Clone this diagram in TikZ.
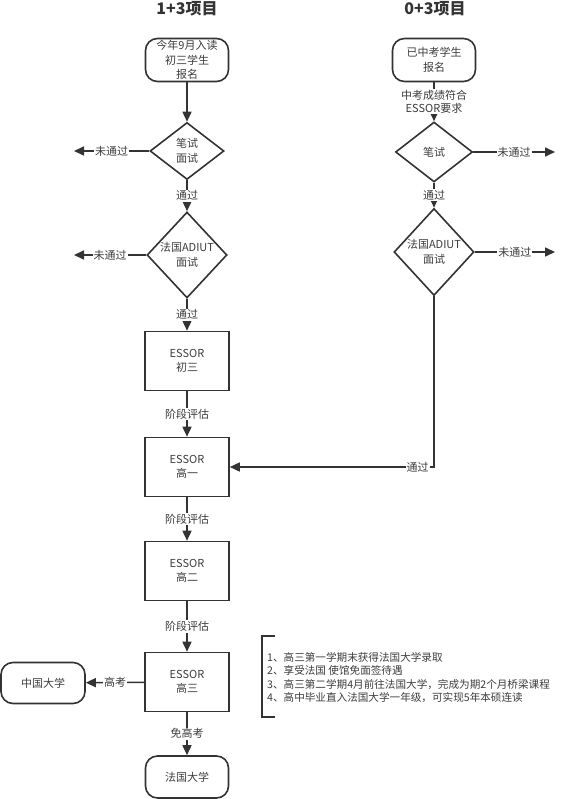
\documentclass[tikz,border=0pt]{standalone}
\usepackage{fontspec}
\setmainfont{Noto Sans CJK SC}
\usetikzlibrary{shapes.geometric,arrows.meta}
\definecolor{ln}{HTML}{333333}
\definecolor{tx}{HTML}{3C3C3C}
\begin{document}
\begin{tikzpicture}[x=1pt,y=-1pt,
  every node/.style={text=tx, font=\fontsize{11}{14.5}\selectfont, align=center},
  term/.style={draw=ln, line width=1.6pt, rounded corners=12pt, minimum width=83pt, minimum height=43pt, inner sep=0pt},
  dia/.style={draw=ln, line width=1.6pt, diamond, inner sep=0pt},
  box/.style={draw=ln, line width=1.6pt, rectangle, minimum width=84pt, minimum height=59pt, inner sep=0pt},
  conn/.style={draw=ln, line width=1.6pt, -{Triangle[length=10pt,width=9pt]}},
  lab/.style={fill=white, inner sep=1pt, font=\fontsize{11}{13}\selectfont},
  ttl/.style={font=\fontsize{16}{18}\selectfont\bfseries, text=ln}
]
\useasboundingbox (0,0) rectangle (560,799);

\node[ttl] (t1) at (187,9) {1+3项目};
\node[ttl] (t2) at (435,9) {0+3项目};

% left column
\node[term] (s1) at (187,60) {今年9月入读\\初三学生\\报名};
\node[dia, minimum width=74pt, minimum height=57pt, label={center:{笔试\\面试}}] (d1) at (187,151) {};
\node[dia, minimum width=80pt, minimum height=86pt, label={center:{法国ADIUT\\面试}}] (d2) at (187,255) {};
\node[box] (b1) at (187,361) {ESSOR\\初三};
\node[box] (b2) at (187,467) {ESSOR\\高一};
\node[box] (b3) at (187,571) {ESSOR\\高二};
\node[box] (b4) at (187,682) {ESSOR\\高三};
\node[term, minimum height=42pt] (fr) at (187,777) {法国大学};
\node[term, minimum width=84pt, minimum height=41pt] (cn) at (43,683) {中国大学};

\coordinate (l1) at (74,151);
\coordinate (l2) at (74,255);

% right column
\node[term] (s2) at (434,60) {已中考学生\\报名};
\node[dia, minimum width=77pt, minimum height=60pt, label={center:{笔试}}] (d3) at (434,152) {};
\node[dia, minimum width=80pt, minimum height=87pt, label={center:{法国ADIUT\\面试}}] (d4) at (434,252) {};

\coordinate (r1) at (555,152);
\coordinate (r2) at (555,252);

% connectors left
\draw[conn] (s1) -- (d1);
\draw[conn] (d1) -- node[lab]{通过} (d2);
\draw[conn] (d2) -- node[lab]{通过} (b1);
\draw[conn] (b1) -- node[lab]{阶段评估} (b2);
\draw[conn] (b2) -- node[lab]{阶段评估} (b3);
\draw[conn] (b3) -- node[lab]{阶段评估} (b4);
\draw[conn] (b4) -- node[lab]{免高考} (fr);
\draw[conn] (b4) -- node[lab]{高考} (cn);
\draw[conn] (d1) -- node[lab]{未通过} (l1);
\draw[conn] (d2) -- node[lab]{未通过} (l2);

% connectors right
\draw[conn] (s2) -- node[lab]{中考成绩符合\\ESSOR要求} (d3);
\draw[conn] (d3) -- node[lab]{通过} (d4);
\draw[conn] (d3) -- node[lab]{未通过} (r1);
\draw[conn] (d4) -- node[lab]{未通过} (r2);
\draw[conn] (d4.south) |- node[lab, pos=0.54]{通过} (b2.east);

% note with bracket
\draw[draw=ln, line width=1.6pt] (275,636) -- (262,636) -- (262,717) -- (275,717);
\node[anchor=west, align=left, inner sep=0pt, font=\fontsize{10.6}{13.5}\selectfont] (note) at (267,677.5)
  {1、高三第一学期末获得法国大学录取\\2、享受法国 使馆免面签待遇\\3、高三第二学期4月前往法国大学，完成为期2个月桥梁课程\\4、高中毕业直入法国大学一年级，可实现5年本硕连读};
\end{tikzpicture}
\end{document}
